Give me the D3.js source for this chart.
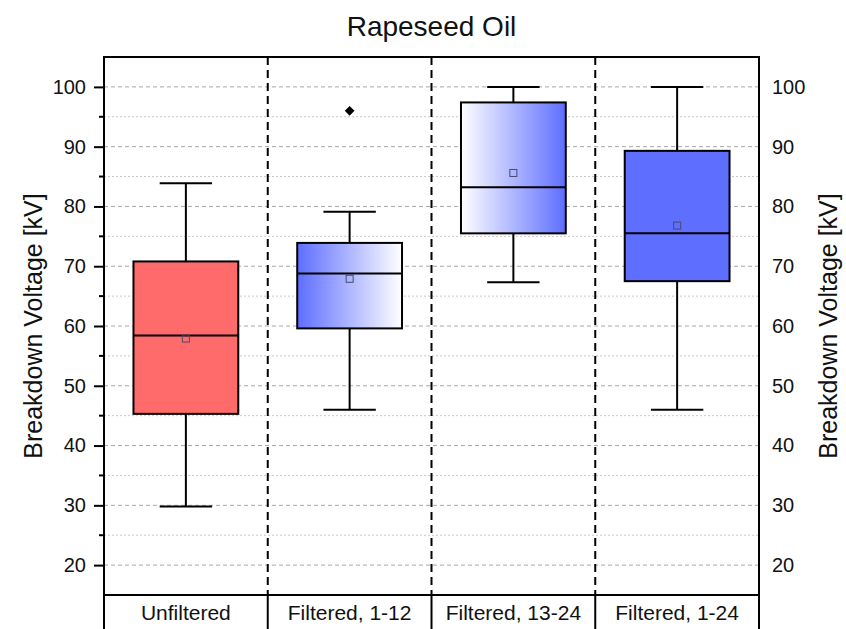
<!DOCTYPE html>
<html>
<head>
<meta charset="utf-8">
<script src="https://cdn.jsdelivr.net/npm/d3@7"></script>
<style>
  html, body { margin: 0; padding: 0; background: #fff; }
  svg { display: block; font-family: "Liberation Sans", Arial, sans-serif; }
</style>
</head>
<body>
<svg id="chart" width="846" height="629"></svg>
<script>
// Breakdown voltage statistics per filtering condition
const categories = ["Unfiltered", "Filtered, 1-12", "Filtered, 13-24", "Filtered, 1-24"];
const whiskerLow = [29.8, 46.0, 67.3, 46.0];
const q1 = [45.3, 59.6, 75.5, 67.5];
const median = [58.4, 68.8, 83.2, 75.5];
const q3 = [70.8, 73.9, 97.4, 89.3];
const whiskerHigh = [83.9, 79.1, 100.0, 100.0];
const means = [57.9, 67.9, 85.6, 76.8];
const outliers = [[], [96.0], [], []];
const majorTicks = [20, 30, 40, 50, 60, 70, 80, 90, 100];
const minorTicks = [25, 35, 45, 55, 65, 75, 85, 95];

const svg = d3.select("#chart");
const plotLeft = 104, plotRight = 759, plotTop = 57, plotBottom = 595, H = 629;

const x = d3.scaleBand().domain(categories).range([plotLeft, plotRight]).paddingInner(0).paddingOuter(0);
const y = d3.scaleLinear().domain([15, 105]).range([plotBottom, plotTop]);

// Gradients for the two partially filtered groups
const defs = svg.append("defs");
const blue = "#5e6eff", red = "#ff6b6b";
function grad(id, c0, c1) {
  const g = defs.append("linearGradient").attr("id", id).attr("x1", "0%").attr("x2", "100%").attr("y1", "0%").attr("y2", "0%");
  g.append("stop").attr("offset", "0%").attr("stop-color", c0);
  g.append("stop").attr("offset", "100%").attr("stop-color", c1);
}
grad("blueToWhite", blue, "#ffffff");
grad("whiteToBlue", "#ffffff", blue);
const fills = [red, "url(#blueToWhite)", "url(#whiteToBlue)", blue];

// Grid lines
svg.append("g").selectAll("line").data(minorTicks).join("line")
  .attr("x1", plotLeft).attr("x2", plotRight)
  .attr("y1", d => y(d)).attr("y2", d => y(d))
  .attr("stroke", "#c8c8c8").attr("stroke-width", 1).attr("stroke-dasharray", "2,2");
svg.append("g").selectAll("line").data(majorTicks).join("line")
  .attr("x1", plotLeft).attr("x2", plotRight)
  .attr("y1", d => y(d)).attr("y2", d => y(d))
  .attr("stroke", "#a8a8a8").attr("stroke-width", 1).attr("stroke-dasharray", "4,3");

// Dashed category separators
const seps = categories.slice(1).map(c => x(c));
svg.append("g").selectAll("line").data(seps).join("line")
  .attr("x1", d => d).attr("x2", d => d).attr("y1", plotTop).attr("y2", plotBottom)
  .attr("stroke", "#000").attr("stroke-width", 2).attr("stroke-dasharray", "8,5");

// Box plots
const bw = x.bandwidth() * 0.64, cw = bw * 0.5;
const g = svg.append("g").selectAll("g").data(categories).join("g")
  .attr("transform", d => `translate(${x(d) + x.bandwidth() / 2},0)`);
g.append("line").attr("x1", 0).attr("x2", 0)
  .attr("y1", (d, i) => y(whiskerHigh[i])).attr("y2", (d, i) => y(q3[i]))
  .attr("stroke", "#000").attr("stroke-width", 2);
g.append("line").attr("x1", 0).attr("x2", 0)
  .attr("y1", (d, i) => y(q1[i])).attr("y2", (d, i) => y(whiskerLow[i]))
  .attr("stroke", "#000").attr("stroke-width", 2);
g.append("line").attr("x1", -cw / 2).attr("x2", cw / 2)
  .attr("y1", (d, i) => y(whiskerHigh[i])).attr("y2", (d, i) => y(whiskerHigh[i]))
  .attr("stroke", "#000").attr("stroke-width", 2);
g.append("line").attr("x1", -cw / 2).attr("x2", cw / 2)
  .attr("y1", (d, i) => y(whiskerLow[i])).attr("y2", (d, i) => y(whiskerLow[i]))
  .attr("stroke", "#000").attr("stroke-width", 2);
g.append("rect").attr("x", -bw / 2).attr("width", bw)
  .attr("y", (d, i) => y(q3[i])).attr("height", (d, i) => y(q1[i]) - y(q3[i]))
  .attr("fill", (d, i) => fills[i]).attr("stroke", "#000").attr("stroke-width", 2);
g.append("line").attr("x1", -bw / 2).attr("x2", bw / 2)
  .attr("y1", (d, i) => y(median[i])).attr("y2", (d, i) => y(median[i]))
  .attr("stroke", "#000").attr("stroke-width", 2);
g.append("rect").attr("x", -3.5).attr("width", 7)
  .attr("y", (d, i) => y(means[i]) - 3.5).attr("height", 7)
  .attr("fill", "none").attr("stroke", "#4a4a6a").attr("stroke-width", 1);
g.selectAll("path.outlier").data((d, i) => outliers[i]).join("path")
  .attr("class", "outlier")
  .attr("d", d3.symbol(d3.symbolDiamond2, 60))
  .attr("transform", v => `translate(0,${y(v)})`)
  .attr("fill", "#000");

// Frame
svg.append("line").attr("x1", plotLeft).attr("x2", plotRight).attr("y1", plotTop).attr("y2", plotTop)
  .attr("stroke", "#000").attr("stroke-width", 2);
svg.append("line").attr("x1", plotLeft).attr("x2", plotRight).attr("y1", plotBottom).attr("y2", plotBottom)
  .attr("stroke", "#000").attr("stroke-width", 2);

// Left axis
const leftAxis = svg.append("g").attr("transform", `translate(${plotLeft},0)`);
leftAxis.call(d3.axisLeft(y).tickValues(majorTicks).tickSize(10).tickPadding(8).tickSizeOuter(0));
leftAxis.selectAll(".tick line").attr("stroke-width", 2);
leftAxis.select(".domain").remove();
leftAxis.selectAll("text").attr("font-size", 20).attr("fill", "#111").attr("font-family", "Liberation Sans, Arial, sans-serif");
leftAxis.selectAll("line.minor").data(minorTicks).join("line").attr("class", "minor")
  .attr("x1", -5).attr("x2", 0).attr("y1", d => y(d)).attr("y2", d => y(d))
  .attr("stroke", "#000").attr("stroke-width", 2);
svg.append("line").attr("x1", plotLeft).attr("x2", plotLeft).attr("y1", plotTop - 1).attr("y2", H)
  .attr("stroke", "#000").attr("stroke-width", 2);

// Right axis (labels only)
const rightAxis = svg.append("g").attr("transform", `translate(${plotRight},0)`);
rightAxis.call(d3.axisRight(y).tickValues(majorTicks).tickSize(0).tickPadding(13).tickSizeOuter(0));
rightAxis.select(".domain").remove();
rightAxis.selectAll("text").attr("font-size", 20).attr("fill", "#111").attr("font-family", "Liberation Sans, Arial, sans-serif");
svg.append("line").attr("x1", plotRight).attr("x2", plotRight).attr("y1", plotTop - 1).attr("y2", H)
  .attr("stroke", "#000").attr("stroke-width", 2);

// Category label row
svg.append("g").selectAll("line").data(seps).join("line")
  .attr("x1", d => d).attr("x2", d => d).attr("y1", plotBottom).attr("y2", H)
  .attr("stroke", "#000").attr("stroke-width", 2);
svg.append("g").selectAll("text").data(categories).join("text")
  .attr("x", d => x(d) + x.bandwidth() / 2).attr("y", 620)
  .attr("text-anchor", "middle").attr("font-size", 21).attr("fill", "#111")
  .text(d => d);

// Titles
svg.append("text").attr("x", (plotLeft + plotRight) / 2).attr("y", 36)
  .attr("text-anchor", "middle").attr("font-size", 28).attr("fill", "#111")
  .text("Rapeseed Oil");
svg.append("text").attr("transform", `translate(42,${(plotTop + plotBottom) / 2}) rotate(-90)`)
  .attr("text-anchor", "middle").attr("font-size", 25).attr("fill", "#111")
  .text("Breakdown Voltage [kV]");
svg.append("text").attr("transform", `translate(837,${(plotTop + plotBottom) / 2}) rotate(-90)`)
  .attr("text-anchor", "middle").attr("font-size", 25).attr("fill", "#111")
  .text("Breakdown Voltage [kV]");
</script>
</body>
</html>
